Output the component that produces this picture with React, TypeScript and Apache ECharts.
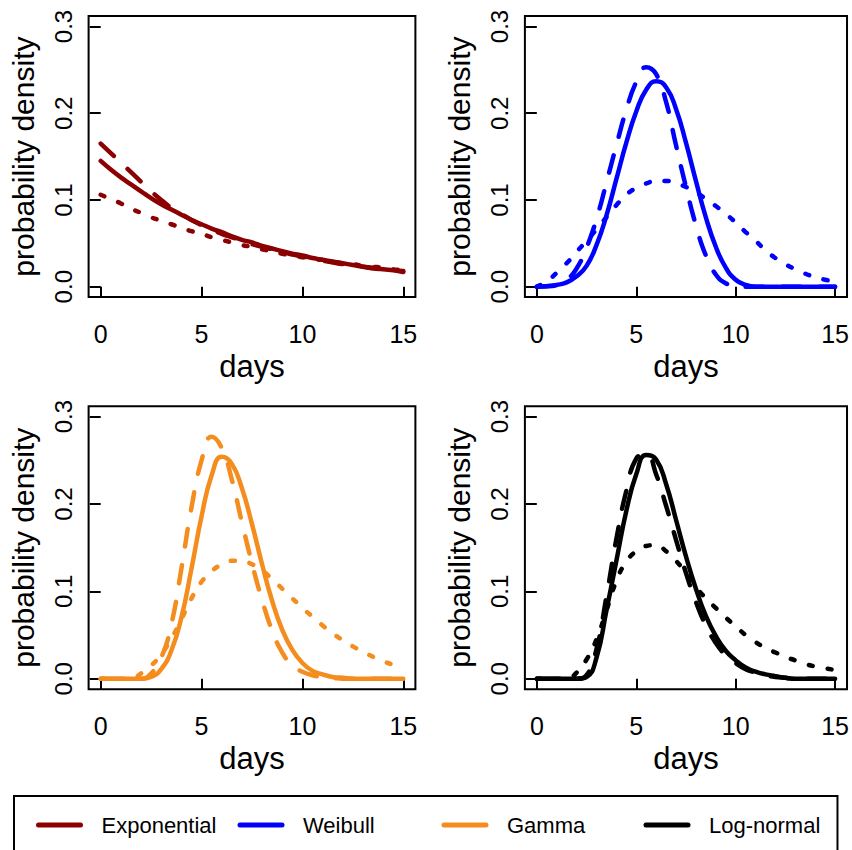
import React, { useEffect, useRef } from 'react';
import * as echarts from 'echarts';

// ---- data -------------------------------------------------------------
const days = [0, 0.5, 1, 1.5, 2, 2.5, 3, 3.5, 4, 4.5, 5, 5.5, 6, 6.5, 7, 7.5, 8, 8.5, 9, 9.5, 10, 10.5, 11, 11.5, 12, 12.5, 13, 13.5, 14, 14.5, 15];
const xTicks = [0, 5, 10, 15];
const yTicks = [0, 0.1, 0.2, 0.3];
const distributions = ['Exponential', 'Weibull', 'Gamma', 'Log-normal'];
const colors = ['#8B0000', '#0000FF', '#F58C1E', '#000000'];

const expSolid = [0.145, 0.135, 0.126, 0.118, 0.110, 0.102, 0.095, 0.089, 0.083, 0.077, 0.072, 0.067, 0.063, 0.058, 0.054, 0.051, 0.047, 0.044, 0.041, 0.038, 0.036, 0.033, 0.031, 0.029, 0.027, 0.025, 0.023, 0.022, 0.020, 0.019, 0.017];
const expDashed = [0.165, 0.154, 0.143, 0.132, 0.121, 0.110, 0.100, 0.091, 0.084, 0.077, 0.071, 0.066, 0.061, 0.057, 0.053, 0.049, 0.046, 0.043, 0.040, 0.037, 0.035, 0.033, 0.030, 0.028, 0.026, 0.025, 0.023, 0.021, 0.020, 0.019, 0.018];
const expDotted = [0.106, 0.101, 0.096, 0.090, 0.085, 0.080, 0.076, 0.072, 0.068, 0.064, 0.061, 0.057, 0.054, 0.051, 0.048, 0.046, 0.043, 0.041, 0.038, 0.036, 0.034, 0.032, 0.031, 0.029, 0.027, 0.026, 0.024, 0.023, 0.022, 0.020, 0.019];

const weiSolid = [0, 0.0005, 0.002, 0.005, 0.012, 0.024, 0.048, 0.082, 0.124, 0.166, 0.202, 0.227, 0.237, 0.230, 0.205, 0.166, 0.122, 0.080, 0.046, 0.022, 0.008, 0.002, 0, 0, 0, 0, 0, 0, 0, 0, 0];
const weiDashed = [0, 0.0005, 0.002, 0.008, 0.021, 0.045, 0.078, 0.120, 0.163, 0.204, 0.236, 0.253, 0.245, 0.213, 0.163, 0.115, 0.071, 0.036, 0.014, 0.004, 0.001, 0, 0, 0, 0, 0, 0, 0, 0, 0, 0];
const weiDotted = [0, 0.006, 0.016, 0.027, 0.040, 0.053, 0.066, 0.080, 0.094, 0.106, 0.114, 0.119, 0.122, 0.122, 0.119, 0.115, 0.109, 0.101, 0.093, 0.084, 0.074, 0.063, 0.053, 0.042, 0.033, 0.026, 0.020, 0.015, 0.011, 0.008, 0.006];

const gamSolid = [0, 0, 0, 0, 0, 0.002, 0.011, 0.032, 0.070, 0.126, 0.186, 0.233, 0.254, 0.246, 0.218, 0.177, 0.131, 0.089, 0.056, 0.033, 0.018, 0.009, 0.005, 0.002, 0.001, 0, 0, 0, 0, 0, 0];
const gamDashed = [0, 0, 0, 0, 0, 0.006, 0.024, 0.062, 0.126, 0.196, 0.250, 0.277, 0.264, 0.228, 0.179, 0.132, 0.090, 0.055, 0.030, 0.015, 0.008, 0.004, 0.002, 0.001, 0, 0, 0, 0, 0, 0, 0];
const gamDotted = [0, 0, 0, 0, 0.006, 0.015, 0.028, 0.046, 0.068, 0.092, 0.111, 0.123, 0.131, 0.135, 0.135, 0.131, 0.124, 0.114, 0.103, 0.092, 0.081, 0.071, 0.061, 0.052, 0.044, 0.037, 0.031, 0.025, 0.020, 0.016, 0.013];

const lnSolid = [0, 0, 0, 0, 0, 0.002, 0.024, 0.078, 0.135, 0.192, 0.234, 0.256, 0.251, 0.223, 0.182, 0.140, 0.103, 0.072, 0.049, 0.032, 0.021, 0.013, 0.008, 0.005, 0.003, 0.001, 0, 0, 0, 0, 0];
const lnDashed = [0, 0, 0, 0, 0, 0.004, 0.034, 0.094, 0.160, 0.215, 0.252, 0.257, 0.234, 0.198, 0.159, 0.121, 0.088, 0.061, 0.041, 0.027, 0.018, 0.011, 0.007, 0.004, 0.002, 0.001, 0, 0, 0, 0, 0];
const lnDotted = [0, 0, 0, 0, 0.007, 0.022, 0.045, 0.078, 0.112, 0.134, 0.146, 0.152, 0.153, 0.146, 0.135, 0.121, 0.105, 0.092, 0.081, 0.070, 0.060, 0.050, 0.042, 0.035, 0.030, 0.025, 0.021, 0.017, 0.014, 0.012, 0.010];

const panels = [
  [expSolid, expDashed, expDotted],
  [weiSolid, weiDashed, weiDotted],
  [gamSolid, gamDashed, gamDotted],
  [lnSolid, lnDashed, lnDotted],
];

const FONT = '"Liberation Sans", Arial, sans-serif';

export default function App() {
  const ref = useRef<HTMLDivElement>(null);

  useEffect(() => {
    if (!ref.current) return;
    const chart = echarts.init(ref.current, undefined, { renderer: 'svg' });

    const grids = [
      { left: 88.6, top: 16.1, width: 326.8, height: 281 },
      { left: 524.9, top: 16.1, width: 327.3, height: 281 },
      { left: 88.6, top: 406.2, width: 326.8, height: 283 },
      { left: 524.9, top: 406.2, width: 327.3, height: 283 },
    ].map((g) => ({ ...g, show: true, borderColor: '#000', borderWidth: 2, backgroundColor: 'transparent' }));

    const tickStyle = { show: true, inside: false, length: 11, lineStyle: { color: '#000', width: 2 } };

    const xAxes = grids.map((_, i) => ({
      type: 'value',
      gridIndex: i,
      min: -0.6,
      max: 15.6,
      axisLine: { show: false },
      splitLine: { show: false },
      axisTick: { ...tickStyle, customValues: xTicks },
      axisLabel: { customValues: xTicks, margin: 24, fontSize: 25, color: '#000', fontFamily: FONT },
      name: 'days',
      nameLocation: 'middle',
      nameGap: 54,
      nameTextStyle: { fontSize: 31, color: '#000', fontFamily: FONT },
    }));

    const yAxes = grids.map((_, i) => ({
      type: 'value',
      gridIndex: i,
      min: -0.012,
      max: 0.312,
      axisLine: { show: false },
      splitLine: { show: false },
      axisTick: { ...tickStyle, customValues: yTicks },
      axisLabel: {
        customValues: yTicks,
        rotate: 90,
        margin: 13,
        fontSize: 24,
        color: '#000',
        fontFamily: FONT,
        formatter: (v: number) => v.toFixed(1),
      },
      name: 'probability density',
      nameLocation: 'middle',
      nameRotate: 90,
      nameGap: 50,
      nameTextStyle: { fontSize: 30, color: '#000', fontFamily: FONT },
    }));

    const styles: any[] = [
      { type: 'solid', suffix: '' },
      { type: [18, 19], suffix: ' (dashed)' },
      { type: [4, 15], suffix: ' (dotted)' },
    ];

    const series: any[] = [];
    panels.forEach((curves, p) => {
      curves.forEach((vals, k) => {
        series.push({
          type: 'line',
          name: distributions[p] + styles[k].suffix,
          xAxisIndex: p,
          yAxisIndex: p,
          data: days.map((d, i) => [d, vals[i]]),
          showSymbol: false,
          symbol: 'none',
          smooth: 0.5,
          color: colors[p],
          lineStyle: { color: colors[p], width: 4.5, type: styles[k].type, cap: 'round', join: 'round' },
          z: 2 + k,
        });
      });
    });

    // one legend per item so that the items sit at evenly spaced positions
    const legendLeft = [14, 237.5, 441.5, 643.5];
    const legends = distributions.map((name, i) => ({
      data: [name],
      orient: 'horizontal',
      left: legendLeft[i],
      top: i === 0 ? 796 : 814,
      padding: i === 0 ? [18, 621, 40, 22] : 0,
      itemWidth: 42,
      itemHeight: 22,
      borderColor: '#000',
      borderWidth: i === 0 ? 2 : 0,
      selectedMode: false,
      textStyle: { fontSize: 22, color: '#000', fontFamily: FONT, padding: [0, 0, 0, 16] },
      itemStyle: { opacity: 0 },
      lineStyle: { type: 'solid', width: 5, cap: 'round' },
    }));

    chart.setOption({
      animation: false,
      backgroundColor: '#fff',
      textStyle: { fontFamily: FONT },
      grid: grids,
      xAxis: xAxes,
      yAxis: yAxes,
      legend: legends,
      series,
    });

    return () => chart.dispose();
  }, []);

  return <div ref={ref} style={{ position: 'fixed', left: 0, top: 0, width: 852, height: 850 }} />;
}
